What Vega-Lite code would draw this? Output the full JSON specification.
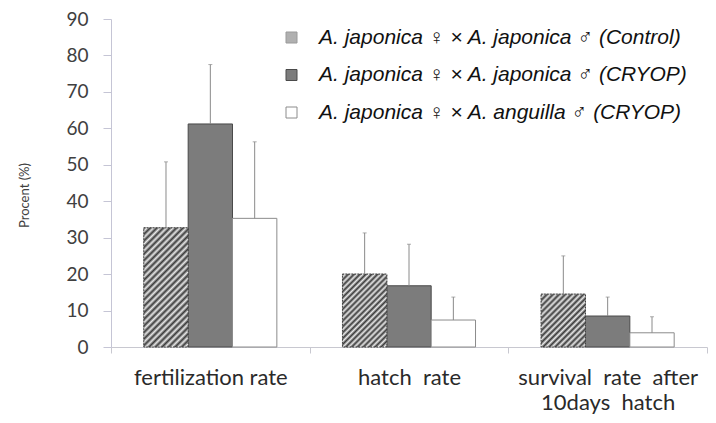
{
  "$schema": "https://vega.github.io/schema/vega-lite/v6.json",
  "width": 596,
  "height": 328,
  "autosize": {"type": "none"},
  "padding": {"left": 111, "top": 19, "right": 9, "bottom": 76},
  "background": "white",
  "config": {
    "view": {"stroke": null},
    "font": "Lato",
    "legend": {
      "orient": "none",
      "legendX": 170,
      "legendY": 8,
      "title": null,
      "symbolType": "square",
      "symbolSize": 121,
      "symbolStrokeWidth": 1,
      "labelFont": "Liberation Sans",
      "labelFontStyle": "italic",
      "labelFontSize": 21,
      "labelColor": "#111111",
      "labelOffset": 17,
      "rowPadding": 15.5,
      "labelLimit": 600
    }
  },
  "data": {
    "values": [
      {"category": "fertilization rate", "series": "A. japonica ♀ × A. japonica ♂ (Control)", "value": 32.7, "upper": 50.8},
      {"category": "fertilization rate", "series": "A. japonica ♀ × A. japonica ♂ (CRYOP)", "value": 61.2, "upper": 77.5},
      {"category": "fertilization rate", "series": "A. japonica ♀ × A. anguilla ♂ (CRYOP)", "value": 35.3, "upper": 56.3},
      {"category": "hatch rate", "series": "A. japonica ♀ × A. japonica ♂ (Control)", "value": 20.0, "upper": 31.3},
      {"category": "hatch rate", "series": "A. japonica ♀ × A. japonica ♂ (CRYOP)", "value": 16.8, "upper": 28.2},
      {"category": "hatch rate", "series": "A. japonica ♀ × A. anguilla ♂ (CRYOP)", "value": 7.4, "upper": 13.7},
      {"category": "survival rate after 10days hatch", "series": "A. japonica ♀ × A. japonica ♂ (Control)", "value": 14.5, "upper": 25.0},
      {"category": "survival rate after 10days hatch", "series": "A. japonica ♀ × A. japonica ♂ (CRYOP)", "value": 8.5, "upper": 13.7},
      {"category": "survival rate after 10days hatch", "series": "A. japonica ♀ × A. anguilla ♂ (CRYOP)", "value": 3.9, "upper": 8.3}
    ]
  },
  "encoding": {
    "x": {
      "field": "category",
      "type": "nominal",
      "sort": ["fertilization rate", "hatch rate", "survival rate after 10days hatch"],
      "scale": {"paddingInner": 0, "paddingOuter": 0},
      "axis": {
        "title": null,
        "tickBand": "extent",
        "labelAngle": 0,
        "labelFont": "Lato",
        "labelFontSize": 22,
        "labelColor": "#2a2a2a",
        "labelPadding": 14,
        "labelLineHeight": 25,
        "labelLimit": 400,
        "tickSize": 6,
        "domainColor": "#c8c8d0",
        "tickColor": "#c8c8d0",
        "labelExpr": "datum.value == 'survival rate after 10days hatch' ? ['survival\u00a0\u00a0rate\u00a0\u00a0after', '10days\u00a0\u00a0hatch'] : datum.value == 'hatch rate' ? 'hatch\u00a0 rate' : datum.value"
      }
    },
    "xOffset": {
      "field": "series",
      "type": "nominal",
      "sort": ["A. japonica ♀ × A. japonica ♂ (Control)", "A. japonica ♀ × A. japonica ♂ (CRYOP)", "A. japonica ♀ × A. anguilla ♂ (CRYOP)"],
      "scale": {
        "domain": ["A. japonica ♀ × A. japonica ♂ (Control)", "A. japonica ♀ × A. japonica ♂ (CRYOP)", "A. japonica ♀ × A. anguilla ♂ (CRYOP)"],
        "paddingInner": 0,
        "paddingOuter": 0.74
      }
    },
    "y": {
      "field": "value",
      "type": "quantitative",
      "scale": {"domain": [0, 90]},
      "axis": {
        "title": "Procent (%)",
        "values": [0, 10, 20, 30, 40, 50, 60, 70, 80, 90],
        "grid": false,
        "domainColor": "#c5c5d5",
        "tickColor": "#c5c5d5",
        "tickSize": 8,
        "labelFont": "Lato",
        "labelFontSize": 19,
        "labelColor": "#404040",
        "labelPadding": 15,
        "titleFont": "Lato",
        "titleFontSize": 13,
        "titleFontWeight": "normal",
        "titleColor": "#404040",
        "titleAngle": -90,
        "titleX": -87,
        "titleY": 176,
        "titleAlign": "center",
        "titleBaseline": "middle"
      }
    }
  },
  "layer": [
    {
      "mark": {"type": "bar", "strokeWidth": 1},
      "encoding": {
        "fill": {
          "field": "series",
          "type": "nominal",
          "scale": {
            "domain": ["A. japonica ♀ × A. japonica ♂ (Control)", "A. japonica ♀ × A. japonica ♂ (CRYOP)", "A. japonica ♀ × A. anguilla ♂ (CRYOP)"],
            "range": ["#b0b0b0", "#7c7c7c", "#ffffff"]
          }
        },
        "stroke": {
          "field": "series",
          "type": "nominal",
          "scale": {
            "domain": ["A. japonica ♀ × A. japonica ♂ (Control)", "A. japonica ♀ × A. japonica ♂ (CRYOP)", "A. japonica ♀ × A. anguilla ♂ (CRYOP)"],
            "range": ["#9a9a9a", "#4a4a4a", "#8c8c8c"]
          }
        }
      }
    },
    {
      "transform": [{"filter": "datum.category == 'fertilization rate' && datum.series == 'A. japonica ♀ × A. japonica ♂ (Control)'"}],
      "mark": {
        "type": "bar",
        "stroke": "#404040",
        "strokeWidth": 1,
        "strokeDash": [1.5, 1.5],
        "fill": {
          "gradient": "linear", "x1": 0, "y1": 0, "x2": 0.4485, "y2": 1.2056,
          "stops": [
            {"offset": 0, "color": "#3a3a3a"}, {"offset": 0.02, "color": "#e8e8e8"}, {"offset": 0.04, "color": "#3a3a3a"}, {"offset": 0.06, "color": "#e8e8e8"},
            {"offset": 0.08, "color": "#3a3a3a"}, {"offset": 0.1, "color": "#e8e8e8"}, {"offset": 0.12, "color": "#3a3a3a"}, {"offset": 0.14, "color": "#e8e8e8"},
            {"offset": 0.16, "color": "#3a3a3a"}, {"offset": 0.18, "color": "#e8e8e8"}, {"offset": 0.2, "color": "#3a3a3a"}, {"offset": 0.22, "color": "#e8e8e8"},
            {"offset": 0.24, "color": "#3a3a3a"}, {"offset": 0.26, "color": "#e8e8e8"}, {"offset": 0.28, "color": "#3a3a3a"}, {"offset": 0.3, "color": "#e8e8e8"},
            {"offset": 0.32, "color": "#3a3a3a"}, {"offset": 0.34, "color": "#e8e8e8"}, {"offset": 0.36, "color": "#3a3a3a"}, {"offset": 0.38, "color": "#e8e8e8"},
            {"offset": 0.4, "color": "#3a3a3a"}, {"offset": 0.42, "color": "#e8e8e8"}, {"offset": 0.44, "color": "#3a3a3a"}, {"offset": 0.46, "color": "#e8e8e8"},
            {"offset": 0.48, "color": "#3a3a3a"}, {"offset": 0.5, "color": "#e8e8e8"}, {"offset": 0.52, "color": "#3a3a3a"}, {"offset": 0.54, "color": "#e8e8e8"},
            {"offset": 0.56, "color": "#3a3a3a"}, {"offset": 0.58, "color": "#e8e8e8"}, {"offset": 0.6, "color": "#3a3a3a"}, {"offset": 0.62, "color": "#e8e8e8"},
            {"offset": 0.64, "color": "#3a3a3a"}, {"offset": 0.66, "color": "#e8e8e8"}, {"offset": 0.68, "color": "#3a3a3a"}, {"offset": 0.7, "color": "#e8e8e8"},
            {"offset": 0.72, "color": "#3a3a3a"}, {"offset": 0.74, "color": "#e8e8e8"}, {"offset": 0.76, "color": "#3a3a3a"}, {"offset": 0.78, "color": "#e8e8e8"},
            {"offset": 0.8, "color": "#3a3a3a"}, {"offset": 0.82, "color": "#e8e8e8"}, {"offset": 0.84, "color": "#3a3a3a"}, {"offset": 0.86, "color": "#e8e8e8"},
            {"offset": 0.88, "color": "#3a3a3a"}, {"offset": 0.9, "color": "#e8e8e8"}, {"offset": 0.92, "color": "#3a3a3a"}, {"offset": 0.94, "color": "#e8e8e8"},
            {"offset": 0.96, "color": "#3a3a3a"}, {"offset": 0.98, "color": "#e8e8e8"}, {"offset": 1, "color": "#3a3a3a"}
          ]
        }
      }
    },
    {
      "transform": [{"filter": "datum.category == 'hatch rate' && datum.series == 'A. japonica ♀ × A. japonica ♂ (Control)'"}],
      "mark": {
        "type": "bar",
        "stroke": "#404040",
        "strokeWidth": 1,
        "strokeDash": [1.5, 1.5],
        "fill": {
          "gradient": "linear", "x1": 0, "y1": 0, "x2": 0.7142, "y2": 1.174,
          "stops": [
            {"offset": 0, "color": "#3a3a3a"}, {"offset": 0.025, "color": "#e8e8e8"}, {"offset": 0.05, "color": "#3a3a3a"}, {"offset": 0.075, "color": "#e8e8e8"},
            {"offset": 0.1, "color": "#3a3a3a"}, {"offset": 0.125, "color": "#e8e8e8"}, {"offset": 0.15, "color": "#3a3a3a"}, {"offset": 0.175, "color": "#e8e8e8"},
            {"offset": 0.2, "color": "#3a3a3a"}, {"offset": 0.225, "color": "#e8e8e8"}, {"offset": 0.25, "color": "#3a3a3a"}, {"offset": 0.275, "color": "#e8e8e8"},
            {"offset": 0.3, "color": "#3a3a3a"}, {"offset": 0.325, "color": "#e8e8e8"}, {"offset": 0.35, "color": "#3a3a3a"}, {"offset": 0.375, "color": "#e8e8e8"},
            {"offset": 0.4, "color": "#3a3a3a"}, {"offset": 0.425, "color": "#e8e8e8"}, {"offset": 0.45, "color": "#3a3a3a"}, {"offset": 0.475, "color": "#e8e8e8"},
            {"offset": 0.5, "color": "#3a3a3a"}, {"offset": 0.525, "color": "#e8e8e8"}, {"offset": 0.55, "color": "#3a3a3a"}, {"offset": 0.575, "color": "#e8e8e8"},
            {"offset": 0.6, "color": "#3a3a3a"}, {"offset": 0.625, "color": "#e8e8e8"}, {"offset": 0.65, "color": "#3a3a3a"}, {"offset": 0.675, "color": "#e8e8e8"},
            {"offset": 0.7, "color": "#3a3a3a"}, {"offset": 0.725, "color": "#e8e8e8"}, {"offset": 0.75, "color": "#3a3a3a"}, {"offset": 0.775, "color": "#e8e8e8"},
            {"offset": 0.8, "color": "#3a3a3a"}, {"offset": 0.825, "color": "#e8e8e8"}, {"offset": 0.85, "color": "#3a3a3a"}, {"offset": 0.875, "color": "#e8e8e8"},
            {"offset": 0.9, "color": "#3a3a3a"}, {"offset": 0.925, "color": "#e8e8e8"}, {"offset": 0.95, "color": "#3a3a3a"}, {"offset": 0.975, "color": "#e8e8e8"},
            {"offset": 1, "color": "#3a3a3a"}
          ]
        }
      }
    },
    {
      "transform": [{"filter": "datum.category == 'survival rate after 10days hatch' && datum.series == 'A. japonica ♀ × A. japonica ♂ (Control)'"}],
      "mark": {
        "type": "bar",
        "stroke": "#404040",
        "strokeWidth": 1,
        "strokeDash": [1.5, 1.5],
        "fill": {
          "gradient": "linear", "x1": 0, "y1": 0, "x2": 0.9061, "y2": 1.0788,
          "stops": [
            {"offset": 0, "color": "#3a3a3a"}, {"offset": 0.03125, "color": "#e8e8e8"}, {"offset": 0.0625, "color": "#3a3a3a"}, {"offset": 0.09375, "color": "#e8e8e8"},
            {"offset": 0.125, "color": "#3a3a3a"}, {"offset": 0.15625, "color": "#e8e8e8"}, {"offset": 0.1875, "color": "#3a3a3a"}, {"offset": 0.21875, "color": "#e8e8e8"},
            {"offset": 0.25, "color": "#3a3a3a"}, {"offset": 0.28125, "color": "#e8e8e8"}, {"offset": 0.3125, "color": "#3a3a3a"}, {"offset": 0.34375, "color": "#e8e8e8"},
            {"offset": 0.375, "color": "#3a3a3a"}, {"offset": 0.40625, "color": "#e8e8e8"}, {"offset": 0.4375, "color": "#3a3a3a"}, {"offset": 0.46875, "color": "#e8e8e8"},
            {"offset": 0.5, "color": "#3a3a3a"}, {"offset": 0.53125, "color": "#e8e8e8"}, {"offset": 0.5625, "color": "#3a3a3a"}, {"offset": 0.59375, "color": "#e8e8e8"},
            {"offset": 0.625, "color": "#3a3a3a"}, {"offset": 0.65625, "color": "#e8e8e8"}, {"offset": 0.6875, "color": "#3a3a3a"}, {"offset": 0.71875, "color": "#e8e8e8"},
            {"offset": 0.75, "color": "#3a3a3a"}, {"offset": 0.78125, "color": "#e8e8e8"}, {"offset": 0.8125, "color": "#3a3a3a"}, {"offset": 0.84375, "color": "#e8e8e8"},
            {"offset": 0.875, "color": "#3a3a3a"}, {"offset": 0.90625, "color": "#e8e8e8"}, {"offset": 0.9375, "color": "#3a3a3a"}, {"offset": 0.96875, "color": "#e8e8e8"},
            {"offset": 1, "color": "#3a3a3a"}
          ]
        }
      }
    },
    {
      "mark": {"type": "rule", "color": "#8a8a8a", "strokeWidth": 1},
      "encoding": {
        "y2": {"field": "upper"}
      }
    },
    {
      "mark": {"type": "tick", "color": "#8a8a8a", "orient": "horizontal", "size": 4, "thickness": 1},
      "encoding": {
        "y": {"field": "upper", "type": "quantitative"}
      }
    }
  ]
}
